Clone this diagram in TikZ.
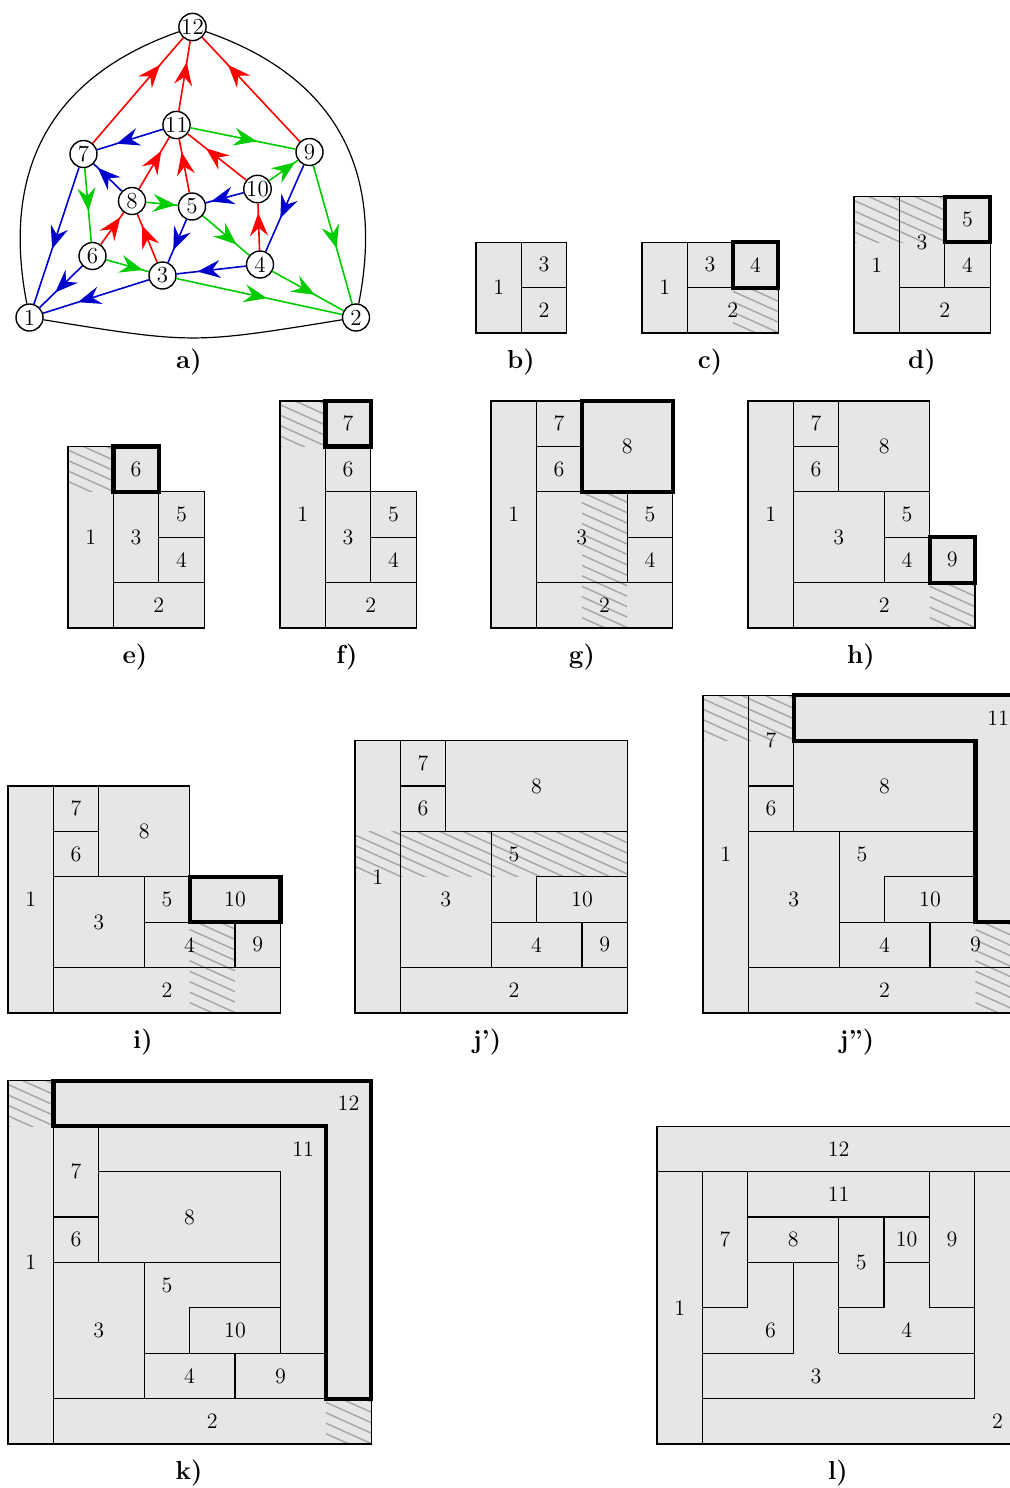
\documentclass[tikz,border=0pt]{standalone}
\usetikzlibrary{arrows.meta,decorations.markings}
\definecolor{cellgray}{HTML}{E6E6E6}
\definecolor{hatchgray}{HTML}{A8A8A8}
\definecolor{ered}{HTML}{FF0000}
\definecolor{eblue}{HTML}{0000CC}
\definecolor{egreen}{HTML}{00CC00}
\tikzset{
  gridline/.style={line width=0.6pt, black},
  thickbox/.style={line width=2.1pt, black, line join=miter},
  hatchline/.style={hatchgray, line width=0.75pt},
  num/.style={font=\fontsize{11}{13}\selectfont, inner sep=0pt},
  captext/.style={font=\fontsize{13}{15}\selectfont\bfseries, inner sep=0pt},
  vtx/.style={circle, draw, fill=white, line width=0.7pt, minimum size=13.5pt, inner sep=0pt, font=\fontsize{11.5}{13}\selectfont},
  gline/.style={line width=0.8pt},
  curveline/.style={line width=0.6pt, black},
  arr/.style={decoration={markings, mark=at position 0.5 with {\pgftransformxshift{#1}\arrow{Stealth[length=11.5pt,width=9pt,inset=4pt]}}}, postaction={decorate}},
  arr/.default=7pt,
}
\newcommand\hatchbox[4]{%
  \begin{scope}
    \clip (#1,#2) rectangle (#3,#4);
    \foreach \k in {0,...,40}{
      \draw[hatchline] ({#1},{#2+\k*0.23}) -- ++({#3-#1},{-0.45*(#3-#1)});
    }
  \end{scope}}
\begin{document}
\begin{tikzpicture}[x=0.5pt,y=-0.5pt]
\useasboundingbox (0,0) rectangle (1010,1488);
\clip (0,0) rectangle (1010,1488);

% ---------------- a) graph
\node[vtx] (v1) at (29.5,317.5) {1};
\node[vtx] (v2) at (356,317.5) {2};
\node[vtx] (v3) at (162.5,275.5) {3};
\node[vtx] (v4) at (260,264.5) {4};
\node[vtx] (v5) at (192,206.5) {5};
\node[vtx] (v6) at (92.5,256) {6};
\node[vtx] (v7) at (83.5,154) {7};
\node[vtx] (v8) at (132,201) {8};
\node[vtx] (v9) at (309.5,152) {9};
\node[vtx] (v10) at (257.5,189) {10};
\node[vtx] (v11) at (176.5,125) {11};
\node[vtx] (v12) at (192.5,27) {12};

\draw[curveline] (v12) .. controls (55,75) and (0,165) .. (v1);
\draw[curveline] (v12) .. controls (331,75) and (386,165) .. (v2);
\draw[curveline] (v1) .. controls (193,344) .. (v2);

\draw[gline, ered, arr=17pt] (v7) -- (v12);
\draw[gline, ered, arr] (v11) -- (v12);
\draw[gline, ered, arr=17pt] (v9) -- (v12);
\draw[gline, ered, arr] (v8) -- (v11);
\draw[gline, ered, arr] (v5) -- (v11);
\draw[gline, ered, arr] (v10) -- (v11);
\draw[gline, ered, arr] (v6) -- (v8);
\draw[gline, ered, arr] (v3) -- (v8);
\draw[gline, ered, arr] (v4) -- (v10);

\draw[gline, eblue, arr] (v11) -- (v7);
\draw[gline, eblue, arr] (v8) -- (v7);
\draw[gline, eblue, arr] (v7) -- (v1);
\draw[gline, eblue, arr=4pt] (v6) -- (v1);
\draw[gline, eblue, arr=9.5pt] (v3) -- (v1);
\draw[gline, eblue, arr=5pt] (v5) -- (v3);
\draw[gline, eblue, arr] (v4) -- (v3);
\draw[gline, eblue, arr] (v10) -- (v5);
\draw[gline, eblue, arr=5.5pt] (v9) -- (v4);

\draw[gline, egreen, arr] (v11) -- (v9);
\draw[gline, egreen, arr] (v10) -- (v9);
\draw[gline, egreen, arr] (v8) -- (v5);
\draw[gline, egreen, arr=3pt] (v7) -- (v6);
\draw[gline, egreen, arr=8pt] (v6) -- (v3);
\draw[gline, egreen, arr] (v5) -- (v4);
\draw[gline, egreen, arr=4pt] (v3) -- (v2);
\draw[gline, egreen, arr=4pt] (v4) -- (v2);
\draw[gline, egreen, arr] (v9) -- (v2);

\node[captext] (capa) at (189,362) {a)};

% ---------------- b)
\begin{scope}[shift={(238pt,-166.5pt)},x=22.7pt,y=22.7pt]
  \fill[cellgray] (0,0) rectangle (2,2);
  \draw[gridline] (0,0) rectangle (2,2) (1,0)--(1,2) (1,1)--(2,1);
  \node[num] (b1) at (0.5,1) {1};
  \node[num] (b3) at (1.5,1.5) {3};
  \node[num] (b2) at (1.5,0.5) {2};
\end{scope}
\node[captext] (capb) at (521,362) {b)};

% ---------------- c)
\begin{scope}[shift={(321pt,-166.5pt)},x=22.7pt,y=22.7pt]
  \fill[cellgray] (0,0) rectangle (3,2);
  \hatchbox{2}{0}{3}{1}
  \draw[gridline] (0,0) rectangle (3,2) (1,0)--(1,2) (1,1)--(3,1) (2,1)--(2,2);
  \draw[thickbox] (2,1) rectangle (3,2);
  \node[num] (c1) at (0.5,1) {1};
  \node[num] (c3) at (1.5,1.5) {3};
  \node[num] (c4) at (2.5,1.5) {4};
  \node[num] (c2) at (2,0.5) {2};
\end{scope}
\node[captext] (capc) at (710,362) {c)};

% ---------------- d)
\begin{scope}[shift={(427pt,-166.5pt)},x=22.7pt,y=22.7pt]
  \fill[cellgray] (0,0) rectangle (3,3);
  \hatchbox{0}{2}{2}{3}
  \draw[gridline] (0,0) rectangle (3,3) (1,0)--(1,3) (1,1)--(3,1) (2,1)--(2,3) (2,2)--(3,2);
  \draw[thickbox] (2,2) rectangle (3,3);
  \node[num] (d1) at (0.5,1.5) {1};
  \node[num] (d3) at (1.5,2) {3};
  \node[num] (d5) at (2.5,2.5) {5};
  \node[num] (d4) at (2.5,1.5) {4};
  \node[num] (d2) at (2,0.5) {2};
\end{scope}
\node[captext] (capd) at (922,362) {d)};

% ---------------- e)
\begin{scope}[shift={(34pt,-314pt)},x=22.7pt,y=22.7pt]
  \fill[cellgray] (0,0)--(3,0)--(3,3)--(2,3)--(2,4)--(0,4)--cycle;
  \hatchbox{0}{3}{1}{4}
  \draw[gridline] (0,0)--(3,0)--(3,3)--(2,3)--(2,4)--(0,4)--cycle
    (1,0)--(1,4) (1,1)--(3,1) (2,1)--(2,3) (2,2)--(3,2) (1,3)--(2,3);
  \draw[thickbox] (1,3) rectangle (2,4);
  \node[num] (e1) at (0.5,2) {1};
  \node[num] (e3) at (1.5,2) {3};
  \node[num] (e6) at (1.5,3.5) {6};
  \node[num] (e5) at (2.5,2.5) {5};
  \node[num] (e4) at (2.5,1.5) {4};
  \node[num] (e2) at (2,0.5) {2};
\end{scope}
\node[captext] (cape) at (135,657) {e)};

% ---------------- f)
\begin{scope}[shift={(140pt,-314pt)},x=22.7pt,y=22.7pt]
  \fill[cellgray] (0,0)--(3,0)--(3,3)--(2,3)--(2,5)--(0,5)--cycle;
  \hatchbox{0}{4}{1}{5}
  \draw[gridline] (0,0)--(3,0)--(3,3)--(2,3)--(2,5)--(0,5)--cycle
    (1,0)--(1,5) (1,1)--(3,1) (2,1)--(2,3) (2,2)--(3,2) (1,3)--(2,3) (1,4)--(2,4);
  \draw[thickbox] (1,4) rectangle (2,5);
  \node[num] (f1) at (0.5,2.5) {1};
  \node[num] (f7) at (1.5,4.5) {7};
  \node[num] (f6) at (1.5,3.5) {6};
  \node[num] (f3) at (1.5,2) {3};
  \node[num] (f5) at (2.5,2.5) {5};
  \node[num] (f4) at (2.5,1.5) {4};
  \node[num] (f2) at (2,0.5) {2};
\end{scope}
\node[captext] (capf) at (347,657) {f)};

% ---------------- g)
\begin{scope}[shift={(245.5pt,-314pt)},x=22.7pt,y=22.7pt]
  \fill[cellgray] (0,0) rectangle (4,5);
  \hatchbox{2}{0}{3}{3}
  \draw[gridline] (0,0) rectangle (4,5)
    (1,0)--(1,5) (1,1)--(4,1) (3,1)--(3,3) (3,2)--(4,2) (1,3)--(4,3) (2,3)--(2,5) (1,4)--(2,4);
  \draw[thickbox] (2,3) rectangle (4,5);
  \node[num] (g1) at (0.5,2.5) {1};
  \node[num] (g7) at (1.5,4.5) {7};
  \node[num] (g6) at (1.5,3.5) {6};
  \node[num] (g8) at (3,4) {8};
  \node[num] (g3) at (2,2) {3};
  \node[num] (g5) at (3.5,2.5) {5};
  \node[num] (g4) at (3.5,1.5) {4};
  \node[num] (g2) at (2.5,0.5) {2};
\end{scope}
\node[captext] (capg) at (582,657) {g)};

% ---------------- h)
\begin{scope}[shift={(374pt,-314pt)},x=22.7pt,y=22.7pt]
  \fill[cellgray] (0,0)--(5,0)--(5,2)--(4,2)--(4,5)--(0,5)--cycle;
  \hatchbox{4}{0}{5}{1}
  \draw[gridline] (0,0)--(5,0)--(5,2)--(4,2)--(4,5)--(0,5)--cycle
    (1,0)--(1,5) (1,1)--(5,1) (3,1)--(3,3) (3,2)--(4,2) (4,1)--(4,2) (1,3)--(4,3) (2,3)--(2,5) (1,4)--(2,4);
  \draw[thickbox] (4,1) rectangle (5,2);
  \node[num] (h1) at (0.5,2.5) {1};
  \node[num] (h7) at (1.5,4.5) {7};
  \node[num] (h6) at (1.5,3.5) {6};
  \node[num] (h8) at (3,4) {8};
  \node[num] (h3) at (2,2) {3};
  \node[num] (h5) at (3.5,2.5) {5};
  \node[num] (h4) at (3.5,1.5) {4};
  \node[num] (h9) at (4.5,1.5) {9};
  \node[num] (h2) at (3,0.5) {2};
\end{scope}
\node[captext] (caph) at (861,657) {h)};

% ---------------- i)
\begin{scope}[shift={(4pt,-506.5pt)},x=22.7pt,y=22.7pt]
  \fill[cellgray] (0,0)--(6,0)--(6,3)--(4,3)--(4,5)--(0,5)--cycle;
  \hatchbox{4}{0}{5}{2}
  \draw[gridline] (0,0)--(6,0)--(6,3)--(4,3)--(4,5)--(0,5)--cycle
    (1,0)--(1,5) (1,1)--(6,1) (3,1)--(3,3) (3,2)--(6,2) (5,1)--(5,2) (4,2)--(4,3)
    (1,3)--(4,3) (2,3)--(2,5) (1,4)--(2,4);
  \draw[thickbox] (4,2) rectangle (6,3);
  \node[num] (i1) at (0.5,2.5) {1};
  \node[num] (i7) at (1.5,4.5) {7};
  \node[num] (i6) at (1.5,3.5) {6};
  \node[num] (i8) at (3,4) {8};
  \node[num] (i3) at (2,2) {3};
  \node[num] (i5) at (3.5,2.5) {5};
  \node[num] (i10) at (5,2.5) {10};
  \node[num] (i4) at (4,1.5) {4};
  \node[num] (i9) at (5.5,1.5) {9};
  \node[num] (i2) at (3.5,0.5) {2};
\end{scope}
\node[captext] (capi) at (143,1042) {i)};

% ---------------- j')
\begin{scope}[shift={(177.5pt,-506.5pt)},x=22.7pt,y=22.7pt]
  \fill[cellgray] (0,0) rectangle (6,6);
  \hatchbox{0}{3}{6}{4}
  \draw[gridline] (0,0) rectangle (6,6)
    (1,0)--(1,6) (1,1)--(6,1) (3,1)--(3,4) (3,2)--(6,2) (5,1)--(5,2) (4,2)--(4,3)--(6,3)
    (1,4)--(6,4) (2,4)--(2,6) (1,5)--(2,5);
  \node[num] (jp1) at (0.5,3) {1};
  \node[num] (jp7) at (1.5,5.5) {7};
  \node[num] (jp6) at (1.5,4.5) {6};
  \node[num] (jp8) at (4,5) {8};
  \node[num] (jp3) at (2,2.5) {3};
  \node[num] (jp5) at (3.5,3.5) {5};
  \node[num] (jp10) at (5,2.5) {10};
  \node[num] (jp4) at (4,1.5) {4};
  \node[num] (jp9) at (5.5,1.5) {9};
  \node[num] (jp2) at (3.5,0.5) {2};
\end{scope}
\node[captext] (capjp) at (487,1042) {j')};

% ---------------- j'')
\begin{scope}[shift={(351.5pt,-506.5pt)},x=22.7pt,y=22.7pt]
  \fill[cellgray] (0,0) rectangle (7,7);
  \hatchbox{0}{6}{2}{7}
  \hatchbox{6}{0}{7}{2}
  \draw[gridline] (0,0) rectangle (7,7)
    (1,0)--(1,7) (1,1)--(7,1) (3,1)--(3,4) (3,2)--(7,2) (5,1)--(5,2) (4,2)--(4,3)--(6,3)
    (1,4)--(6,4) (2,4)--(2,7) (1,5)--(2,5);
  \draw[thickbox] (7,2)--(6,2)--(6,6)--(2,6)--(2,7)--(7,7)--cycle;
  \node[num] (jpp1) at (0.5,3.5) {1};
  \node[num] (jpp7) at (1.5,6) {7};
  \node[num] (jpp6) at (1.5,4.5) {6};
  \node[num] (jpp8) at (4,5) {8};
  \node[num] (jpp11) at (6.5,6.5) {11};
  \node[num] (jpp3) at (2,2.5) {3};
  \node[num] (jpp5) at (3.5,3.5) {5};
  \node[num] (jpp10) at (5,2.5) {10};
  \node[num] (jpp4) at (4,1.5) {4};
  \node[num] (jpp9) at (6,1.5) {9};
  \node[num] (jpp2) at (4,0.5) {2};
\end{scope}
\node[captext] (capjpp) at (857,1042) {j'')};

% ---------------- k)
\begin{scope}[shift={(4pt,-722pt)},x=22.7pt,y=22.7pt]
  \fill[cellgray] (0,0) rectangle (8,8);
  \hatchbox{0}{7}{1}{8}
  \hatchbox{7}{0}{8}{1}
  \draw[gridline] (0,0) rectangle (8,8)
    (1,0)--(1,8) (1,1)--(8,1) (3,1)--(3,4) (3,2)--(7,2) (5,1)--(5,2) (4,2)--(4,3)--(6,3)
    (1,4)--(6,4) (2,4)--(2,7) (1,5)--(2,5) (2,6)--(6,6)--(6,2);
  \draw[thickbox] (1,7)--(1,8)--(8,8)--(8,1)--(7,1)--(7,7)--cycle;
  \node[num] (k1) at (0.5,4) {1};
  \node[num] (k12) at (7.5,7.5) {12};
  \node[num] (k11) at (6.5,6.5) {11};
  \node[num] (k7) at (1.5,6) {7};
  \node[num] (k6) at (1.5,4.5) {6};
  \node[num] (k8) at (4,5) {8};
  \node[num] (k3) at (2,2.5) {3};
  \node[num] (k5) at (3.5,3.5) {5};
  \node[num] (k10) at (5,2.5) {10};
  \node[num] (k4) at (4,1.5) {4};
  \node[num] (k9) at (6,1.5) {9};
  \node[num] (k2) at (4.5,0.5) {2};
\end{scope}
\node[captext] (capk) at (189,1473) {k)};

% ---------------- l)
\begin{scope}[shift={(328.5pt,-722pt)},x=22.7pt,y=22.7pt]
  \fill[cellgray] (0,0) rectangle (8,7);
  \draw[gridline] (0,0) rectangle (8,7)
    (0,6)--(8,6) (1,0)--(1,6) (1,1)--(7,1)--(7,6) (1,2)--(3,2)--(3,4) (4,2)--(7,2)
    (1,3)--(2,3) (2,3)--(2,6) (2,5)--(6,5) (6,3)--(6,6) (6,3)--(7,3) (2,4)--(4,4)
    (4,2)--(4,5) (5,3)--(5,5) (4,3)--(5,3) (5,4)--(6,4);
  \node[num] (l1) at (0.5,3) {1};
  \node[num] (l7) at (1.5,4.5) {7};
  \node[num] (l8) at (3,4.5) {8};
  \node[num] (l5) at (4.5,4) {5};
  \node[num] (l10) at (5.5,4.5) {10};
  \node[num] (l9) at (6.5,4.5) {9};
  \node[num] (l11) at (4,5.5) {11};
  \node[num] (l12) at (4,6.5) {12};
  \node[num] (l6) at (2.5,2.5) {6};
  \node[num] (l4) at (5.5,2.5) {4};
  \node[num] (l3) at (3.5,1.5) {3};
  \node[num] (l2) at (7.5,0.5) {2};
\end{scope}
\node[captext] (capl) at (838,1473) {l)};
\end{tikzpicture}
\end{document}
